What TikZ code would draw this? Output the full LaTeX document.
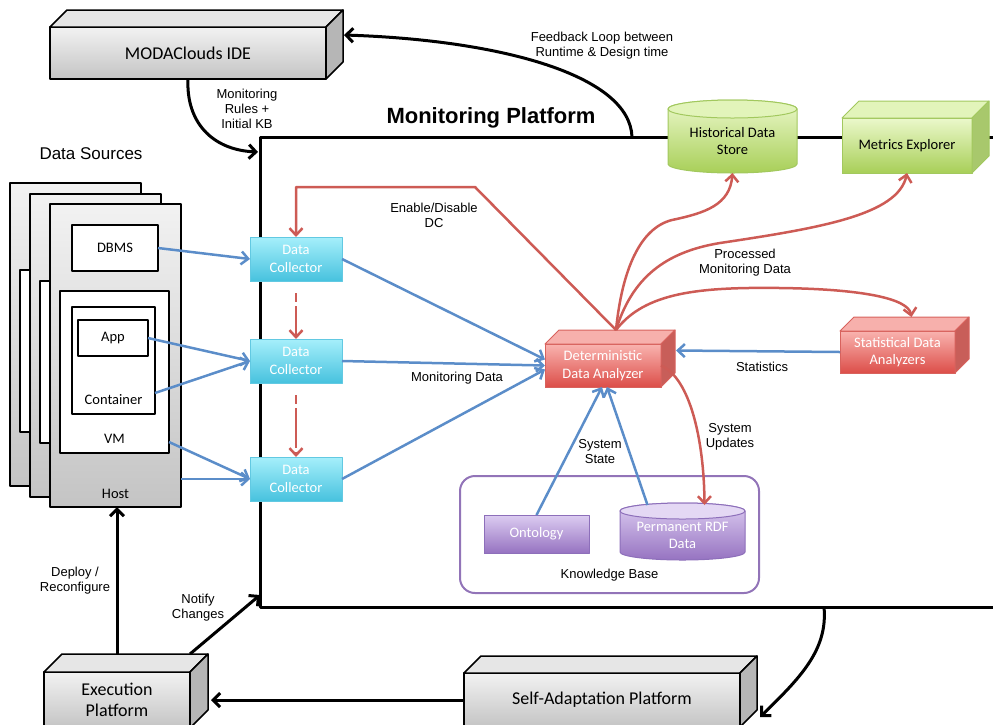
\documentclass[tikz,border=0pt]{standalone}
\usepackage{fontspec}
\setmainfont{Liberation Sans}
\newfontfamily\calfont{Carlito}
\usetikzlibrary{arrows.meta}

\definecolor{grayT}{HTML}{F2F2F2}
\definecolor{grayB}{HTML}{C4C4C4}
\definecolor{grayTop}{HTML}{E6E6E6}
\definecolor{graySide}{HTML}{B6B6B6}
\definecolor{dcT}{HTML}{A6EFFB}
\definecolor{dcB}{HTML}{47C2DE}
\definecolor{dcLine}{HTML}{62C9E2}
\definecolor{rdT}{HTML}{F9B3AF}
\definecolor{rdB}{HTML}{DC4E49}
\definecolor{rdLine}{HTML}{D8625D}
\definecolor{rdTop}{HTML}{F7B0AC}
\definecolor{rdSide}{HTML}{C85E59}
\definecolor{gnT}{HTML}{EBF8CB}
\definecolor{gnB}{HTML}{A8CF58}
\definecolor{gnLine}{HTML}{A2C85E}
\definecolor{gnTop}{HTML}{E2F4BA}
\definecolor{gnSide}{HTML}{A8C86C}
\definecolor{ppT}{HTML}{DCCCF1}
\definecolor{ppB}{HTML}{9673C1}
\definecolor{ppLine}{HTML}{8D6FBA}
\definecolor{ppTop}{HTML}{E4D8F4}
\definecolor{arrBlue}{HTML}{5B8DC9}
\definecolor{arrRed}{HTML}{CD5B55}
\definecolor{kbLine}{HTML}{9274B8}

\newcommand\bxfont{\calfont\fontsize{14.5}{17.5}\selectfont}
\newcommand\bigbxfont{\calfont\fontsize{18}{21}\selectfont}
\newcommand\lblfont{\fontsize{13}{15}\selectfont}

\newcommand\cubefaces[5]{%
  \filldraw[#5, fill=#3] (#1.north west) -- ++(#2,-#2) -- ([shift={(#2,-#2)}]#1.north east) -- (#1.north east) -- cycle;
  \filldraw[#5, fill=#4] (#1.north east) -- ([shift={(#2,-#2)}]#1.north east) -- ([shift={(#2,-#2)}]#1.south east) -- (#1.south east) -- cycle;}

\newcommand\drumbody[7]{%
  \shade[top color=#4, bottom color=#5, draw=#7, line width=1pt]
    (#1.north west) -- ([yshift=#3pt]#1.south west)
    arc[start angle=180, end angle=0, x radius=#2, y radius=#3]
    -- (#1.north east) arc[start angle=0, end angle=-180, x radius=#2, y radius=#3] -- cycle;
  \filldraw[fill=#6, draw=#7, line width=1pt] (#1.north) ellipse[x radius=#2, y radius=#3];}

\begin{document}
\begin{tikzpicture}[x=1pt, y=-1pt, line join=round,
  box/.style={draw, anchor=north west, inner sep=0pt, outer sep=0pt, align=center, font=\bxfont},
  graybox/.style={box, line width=1.5pt, top color=grayT, bottom color=grayB, font=\bigbxfont},
  dcbox/.style={box, draw=dcLine, line width=1pt, top color=dcT, bottom color=dcB, text=white, minimum width=92pt, minimum height=44pt},
  redbox/.style={box, draw=rdLine, line width=1pt, top color=rdT, bottom color=rdB, text=white},
  greenbox/.style={box, draw=gnLine, line width=1pt, top color=gnT, bottom color=gnB},
  purplebox/.style={box, draw=ppLine, line width=1pt, top color=ppT, bottom color=ppB, text=white},
  whitebox/.style={box, line width=1.5pt, fill=white},
  page/.style={box, line width=2pt, top color=grayT, bottom color=grayB, minimum width=131pt, minimum height=303pt},
  spot/.style={anchor=north west, inner sep=0pt, outer sep=0pt},
  inlabel/.style={anchor=center, yshift=14pt, font=\bxfont},
  lbl/.style={align=center, inner sep=0pt, font=\lblfont},
  blk/.style={line width=3pt, -{Straight Barb[length=7pt, width=14pt]}},
  blu/.style={draw=arrBlue, line width=2.5pt, -{Straight Barb[length=7pt, width=13pt]}},
  rd/.style={draw=arrRed, line width=2.5pt, -{Straight Barb[length=7pt, width=13pt]}}]
\useasboundingbox (0,0) rectangle (993,724);
\clip (0,0) rectangle (993,724);

\node[draw, line width=3pt, spot, minimum width=760pt, minimum height=470pt] (mp) at (260,137) {};
\node[inner sep=0pt, font=\bfseries\fontsize{22}{26}\selectfont] (mptitle) at (491,118) {Monitoring Platform};

\node[graybox, minimum width=276pt, minimum height=52pt] (ide) at (50,27) {MODAClouds IDE};
\cubefaces{ide}{17}{grayTop}{graySide}{line width=1.5pt}
\node[graybox, minimum width=146pt, minimum height=56pt] (exe) at (44,672) {Execution\\Platform};
\cubefaces{exe}{18}{grayTop}{graySide}{line width=1.5pt}
\node[graybox, minimum width=276pt, minimum height=54pt] (sap) at (464,673) {Self-Adaptation Platform};
\cubefaces{sap}{17}{grayTop}{graySide}{line width=1.5pt}

\node[lbl, font=\fontsize{17}{20}\selectfont] (dsrc) at (91,154) {Data Sources};
\foreach \i/\x/\y in {1/10/183, 2/30/194} {
  \node[page] (hp\i) at (\x,\y) {};
  \node[whitebox, minimum width=109pt, minimum height=162pt] (vm\i) at (\x+10,\y+87) {};
}
\node[page, label={[inlabel, yshift=-1pt]south:Host}] (hp3) at (50,204) {};
\node[whitebox, minimum width=109pt, minimum height=162pt, label={[inlabel]south:VM}] (vm3) at (60,291) {};
\node[whitebox, minimum width=83pt, minimum height=107pt, label={[inlabel]south:Container}] (cont) at (72,307) {};
\node[whitebox, minimum width=70pt, minimum height=36pt] (app) at (78,320) {App};
\node[whitebox, minimum width=86pt, minimum height=46pt] (dbms) at (72,225) {DBMS};

\node[dcbox] (dc1) at (250,237) {Data\\Collector};
\node[dcbox] (dc2) at (250,339) {Data\\Collector};
\node[dcbox] (dc3) at (250,457) {Data\\Collector};

\node[redbox, minimum width=116pt, minimum height=43pt] (dda) at (545,344) {Deterministic\\Data Analyzer};
\cubefaces{dda}{14}{rdTop}{rdSide}{draw=rdLine, line width=1pt}
\node[redbox, minimum width=115pt, minimum height=42pt] (sda) at (840,331) {Statistical Data\\Analyzers};
\cubefaces{sda}{14}{rdTop}{rdSide}{draw=rdLine, line width=1pt}

\node[greenbox, minimum width=130pt, minimum height=55pt] (mex) at (842,118) {Metrics Explorer};
\cubefaces{mex}{17}{gnTop}{gnSide}{draw=gnLine, line width=1pt}
\node[spot, minimum width=129pt, minimum height=64pt] (hds) at (668,109) {};
\drumbody{hds}{64.5}{9}{gnT}{gnB}{gnTop}{gnLine}
\node[lbl, font=\bxfont] (hdstxt) at (hds.center) {Historical Data\\Store};

\node[spot, draw=kbLine, line width=2pt, rounded corners=15pt, minimum width=299pt, minimum height=117pt,
  label={[lbl, anchor=center, yshift=18pt]south:Knowledge Base}] (kb) at (460,476) {};
\node[purplebox, minimum width=105pt, minimum height=38pt] (onto) at (484,515) {Ontology};
\node[spot, minimum width=125pt, minimum height=49pt] (rdf) at (620,511) {};
\drumbody{rdf}{62.5}{8}{ppT}{ppB}{ppTop}{ppLine}
\node[lbl, font=\bxfont, text=white] (rdftxt) at (rdf.center) {Permanent RDF\\Data};

\draw[blk] (ide.south) .. controls (186,122) and (212,150) .. ([shift={(-2,15)}]mp.north west);
\node[lbl] (rulelbl) at (247,109) {Monitoring\\Rules +\\Initial KB};
\draw[blk] ([xshift=372pt]mp.north west) .. controls (630,75) and (500,40) .. ([shift={(18,8)}]ide.north east);
\node[lbl] (fblbl) at (602,46) {Feedback Loop between\\Runtime \& Design time};
\draw[blk] ([yshift=18pt]exe.north) -- (exe.north |- hp3.south);
\node[lbl] (deplbl) at (75,581) {Deploy /\\Reconfigure};
\draw[blk] ([yshift=18pt]exe.north east) -- ([yshift=12pt]mp.south west);
\node[lbl] (notlbl) at (198,608) {Notify\\Changes};
\draw[blk] (sap.west) -- ([xshift=21pt]exe.east);
\draw[blk] ([xshift=564pt]mp.south west) .. controls (828,650) and (800,678) .. ([shift={(20,17)}]sap.east);

\draw[blu] (dbms.east) -- (dc1.west);
\draw[blu] (app.east) -- (dc2.west);
\draw[blu] ([yshift=21pt]cont.south east) -- (dc2.west);
\draw[blu] ([yshift=11pt]vm3.south east) -- (dc3.west);
\draw[blu] (hp3.east |- dc3.west) -- (dc3.west);
\draw[blu] (dc1.east) -- ([yshift=6pt]dda.west);
\draw[blu] (dc2.east) -- (dda.west);
\draw[blu] (dc3.east) -- ([yshift=-4pt]dda.west);
\node[lbl] (mdlbl) at (457,378) {Monitoring Data};
\draw[blu] (sda.west) -- ([shift={(15,-15)}]dda.east);
\node[lbl] (statlbl) at (762,367) {Statistics};
\draw[blu] (onto.north) -- ([xshift=-1pt]dda.south);
\draw[blu] ([shift={(-35,-6)}]rdf.north) -- ([xshift=4pt]dda.south);
\node[lbl] (sslbl) at (600,452) {System\\State};

\coordinate (ddatop) at ([shift={(13,-14)}]dda.north);
\draw[rd] (ddatop) -- (475,187) -| (dc1.north);
\node[lbl] (enlbl) at (434,215) {Enable/Disable\\DC};
\draw[rd, dash pattern=on 9pt off 4pt on 40pt off 4pt] ([yshift=-12pt]dc1.south) -- (dc2.north);
\draw[rd, dash pattern=on 9pt off 4pt on 40pt off 4pt] ([yshift=-12pt]dc2.south) -- (dc3.north);
\draw[rd] (ddatop) .. controls (622,270) and (640,228) .. (672,220) .. controls (705,213) and (730,205) .. (hds.south);
\draw[rd] (ddatop) .. controls (632,278) and (665,252) .. (720,243) .. controls (820,228) and (898,215) .. (mex.south);
\node[lbl] (pmlbl) at (745,263) {Processed\\Monitoring Data};
\draw[rd] (ddatop) .. controls (645,292) and (700,287) .. (780,288) .. controls (860,289) and (908,298) .. ([shift={(14,-14)}]sda.north);
\draw[rd] (dda.east) .. controls (690,378) and (704,440) .. ([shift={(22,-6)}]rdf.north);
\node[lbl] (sulbl) at (730,437) {System\\Updates};
\end{tikzpicture}
\end{document}
